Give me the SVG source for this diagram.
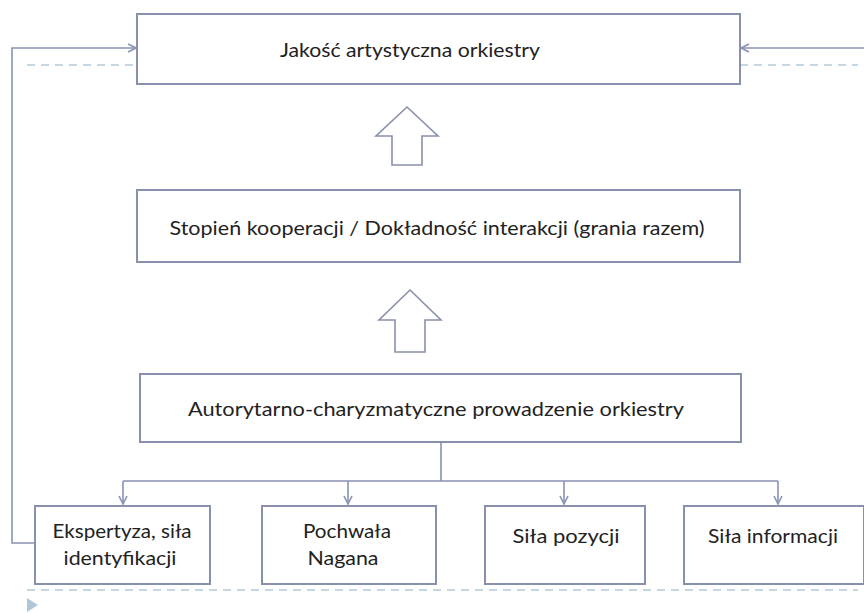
<svg xmlns="http://www.w3.org/2000/svg" width="864" height="613" viewBox="0 0 864 613">
<defs>
<style>
.box{fill:#fff;stroke:#8990AC;stroke-width:2}
.t{font-family:Lato,"Open Sans",sans-serif;font-size:19px;fill:#222;text-anchor:middle}
.c{fill:none;stroke:#8A93B3;stroke-width:1.6}
.d{fill:none;stroke:#B2C9D6;stroke-width:1.6;stroke-dasharray:8 6}
.ba{fill:#fff;stroke:#8A90AA;stroke-width:1.6;stroke-linejoin:miter}
</style>
<marker id="ah" viewBox="0 0 10 10" refX="9" refY="5" markerWidth="10" markerHeight="10" markerUnits="userSpaceOnUse" orient="auto">
<path d="M1,1 L9,5 L1,9" fill="none" stroke="#8A93B3" stroke-width="1.6"/>
</marker>
</defs>
<rect width="864" height="613" fill="#fff"/>
<g id="decor">
<path class="d" d="M27,65 H137 M740,65 H858 M27,590 H858"/>
<path d="M27,598 L38,605 L27,612 Z" fill="#AFC7D6"/>
</g>
<g id="connectors">
<path class="c" d="M35,543 H12 V48 H136" marker-end="url(#ah)"/>
<path class="c" d="M864,48 H741" marker-end="url(#ah)"/>
<path class="c" d="M441,442 V481 M123,481 H778"/>
<path class="c" d="M123,481 V504" marker-end="url(#ah)"/>
<path class="c" d="M348,481 V504" marker-end="url(#ah)"/>
<path class="c" d="M564,481 V504" marker-end="url(#ah)"/>
<path class="c" d="M778,481 V504" marker-end="url(#ah)"/>
<path class="ba" d="M407,107 L438,136 H422 V165 H392 V136 H376 Z"/>
<path class="ba" d="M410,290 L441,320 H425 V352 H395 V320 H379 Z"/>
</g>
<g id="n1"><rect class="box" x="137" y="14" width="603" height="70"/><text class="t" x="410" y="57" textLength="260" lengthAdjust="spacingAndGlyphs">Jakość artystyczna orkiestry</text></g>
<g id="n2"><rect class="box" x="137" y="190" width="603" height="72"/><text class="t" x="437" y="235" textLength="535" lengthAdjust="spacingAndGlyphs">Stopień kooperacji / Dokładność interakcji (grania razem)</text></g>
<g id="n3"><rect class="box" x="140" y="374" width="601" height="68"/><text class="t" x="436" y="416" textLength="496" lengthAdjust="spacingAndGlyphs">Autorytarno-charyzmatyczne prowadzenie orkiestry</text></g>
<g id="n4"><rect class="box" x="35" y="506" width="175" height="78"/><text class="t" x="122" y="538" textLength="139" lengthAdjust="spacingAndGlyphs">Ekspertyza, siła</text><text class="t" x="120" y="565" textLength="113" lengthAdjust="spacingAndGlyphs">identyfikacji</text></g>
<g id="n5"><rect class="box" x="262" y="506" width="174" height="78"/><text class="t" x="347" y="538" textLength="88" lengthAdjust="spacingAndGlyphs">Pochwała</text><text class="t" x="343" y="565" textLength="71" lengthAdjust="spacingAndGlyphs">Nagana</text></g>
<g id="n6"><rect class="box" x="485" y="506" width="160" height="78"/><text class="t" x="566" y="543" textLength="107" lengthAdjust="spacingAndGlyphs">Siła pozycji</text></g>
<g id="n7"><rect class="box" x="684" y="506" width="180" height="78"/><text class="t" x="773" y="543" textLength="130" lengthAdjust="spacingAndGlyphs">Siła informacji</text></g>
</svg>
